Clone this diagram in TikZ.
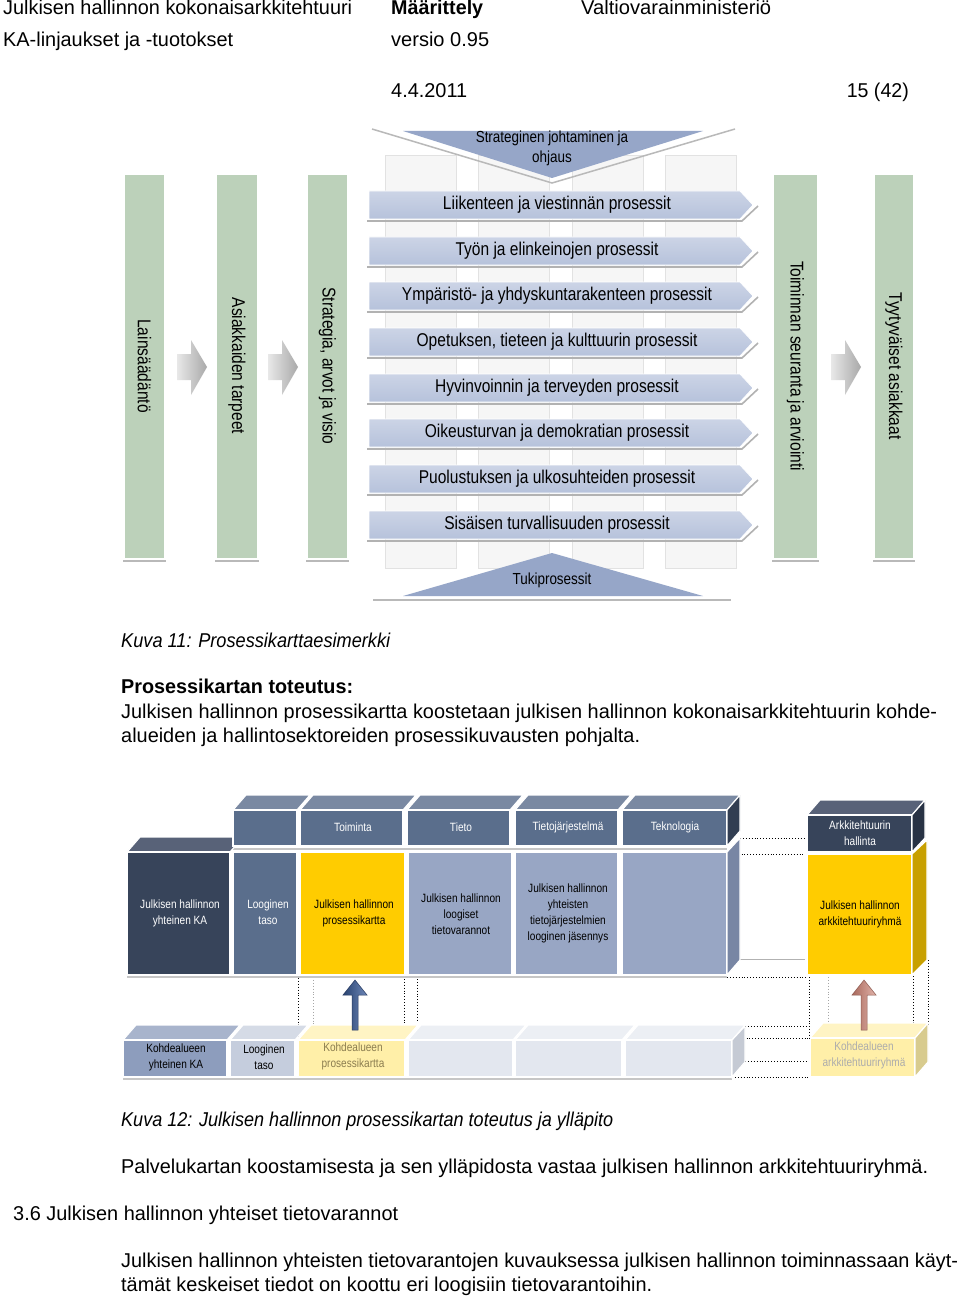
\documentclass[tikz,border=0pt]{standalone}
\usepackage{fontspec}
\usepackage{graphicx}
\setmainfont{Liberation Sans}
\newfontfamily\nar[FakeStretch=0.84]{Liberation Sans}
\newsavebox\fitbox
\newcommand\fitw[2]{\sbox\fitbox{#2}\pgfmathsetmacro\fitratio{#1/\the\wd\fitbox}\scalebox{\fitratio}[1]{\usebox\fitbox}}
\definecolor{gcol}{RGB}{188,209,186}
\definecolor{barT}{RGB}{204,212,230}
\definecolor{barB}{RGB}{182,194,219}
\definecolor{tri}{RGB}{150,166,200}
\definecolor{gridf}{RGB}{246,246,246}
\definecolor{gridd}{RGB}{226,226,226}
\definecolor{navy}{RGB}{55,68,90}
\definecolor{navyT}{RGB}{88,98,120}
\definecolor{navyS}{RGB}{40,50,68}
\definecolor{slate}{RGB}{90,110,140}
\definecolor{slateT}{RGB}{122,137,162}
\definecolor{lslate}{RGB}{152,166,196}
\definecolor{lslateS}{RGB}{120,134,164}
\definecolor{yel}{RGB}{255,204,0}
\definecolor{yelS}{RGB}{200,160,0}
\definecolor{b1}{RGB}{141,157,189}
\definecolor{b1T}{RGB}{168,180,204}
\definecolor{b2}{RGB}{197,205,221}
\definecolor{b2T}{RGB}{213,219,230}
\definecolor{ly}{RGB}{255,239,168}
\definecolor{lyT}{RGB}{255,244,196}
\definecolor{lyS}{RGB}{216,203,142}
\definecolor{lg}{RGB}{227,231,239}
\definecolor{lgT}{RGB}{236,239,244}
\definecolor{lgS}{RGB}{197,202,212}
\definecolor{brownt}{RGB}{139,125,80}
\begin{document}
\begin{tikzpicture}[x=1pt,y=-1pt,
 txt/.style={anchor=base west, inner sep=0pt, font=\fontsize{20}{24}\selectfont},
 bartxt/.style={inner sep=0pt, font=\nar\fontsize{18.5}{20}\selectfont},
 coltxt/.style={inner sep=0pt, rotate=-90, font=\nar\fontsize{18.5}{20}\selectfont},
 tritxt/.style={inner sep=0pt, align=center, font=\nar\fontsize{16}{20}\selectfont},
 dtxt/.style={inner sep=0pt, align=center, font=\nar\fontsize{12}{16}\selectfont},
 cell/.style={draw=white, line width=1.2pt},
 dots/.style={dotted, line width=0.9pt, black},
 gdots/.style={dotted, line width=0.9pt, gray!70},
]
\useasboundingbox (0,0) rectangle (960,1297);
\fill[white] (0,0) rectangle (960,1297);

% ---------- header ----------
\node[txt] (h1) at (3,15) {\fitw{349}{Julkisen hallinnon kokonaisarkkitehtuuri}};
\node[txt] (h2) at (391,15) {\fitw{92}{\bfseries Määrittely}};
\node[txt] (h3) at (581,15) {\fitw{190}{Valtiovarainministeriö}};
\node[txt] (h4) at (3,47) {\fitw{230}{KA-linjaukset ja -tuotokset}};
\node[txt] (h5) at (391,47) {\fitw{98}{versio 0.95}};
\node[txt] (h6) at (391,98) {\fitw{76}{4.4.2011}};
\node[txt, anchor=base east] (h7) at (909,98) {\fitw{62}{15 (42)}};

% ---------- diagram 1 ----------
\foreach \gx in {385,478,572,665}
  \draw[fill=gridf, draw=gridd] (\gx,155) rectangle (\gx+71,568);

% green columns
\foreach \cx/\cw in {125/39,217/40,308/39,774/43,875/38}{
  \draw[gray!55, line width=1.5pt] (\cx-2,561) -- (\cx+\cw+2,561);
  \fill[gcol] (\cx,175) rectangle (\cx+\cw,558);
  \draw[white, line width=1pt] (\cx-1,174) rectangle (\cx+\cw+1,559);
}
\node[coltxt] (c1) at (144.5,366) {Lainsäädäntö};
\node[coltxt] (c2) at (237,366) {Asiakkaiden tarpeet};
\node[coltxt] (c3) at (327.5,366) {Strategia, arvot ja visio};
\node[coltxt] (c4) at (795.5,366) {Toiminnan seuranta ja arviointi};
\node[coltxt] (c5) at (894,366) {Tyytyväiset asiakkaat};

% gray arrows between columns
\foreach \ax in {177,268,831}
  \shade[left color=gray!18, right color=gray!68]
    (\ax,354) -- (\ax+14,354) -- (\ax+14,340) -- (\ax+30,367) -- (\ax+14,395) -- (\ax+14,380) -- (\ax,380) -- cycle;

% top triangle
\draw[gray!55, line width=1.5pt] (372,129) -- (552,183) -- (735,129);
\fill[tri] (403,131) -- (703,131) -- (552,178) -- cycle;
\node[tritxt] (st) at (552,148) {Strateginen johtaminen ja\\ohjaus};

% process bars
\foreach \yy/\ptext [count=\i] in {205/Liikenteen ja viestinnän prosessit,
  251/Työn ja elinkeinojen prosessit,
  296/Ympäristö- ja yhdyskuntarakenteen prosessit,
  342/{Opetuksen, tieteen ja kulttuurin prosessit},
  388/Hyvinvoinnin ja terveyden prosessit,
  433/Oikeusturvan ja demokratian prosessit,
  479/Puolustuksen ja ulkosuhteiden prosessit,
  525/Sisäisen turvallisuuden prosessit}{
  \draw[gray!60, line width=1.6pt] (367,\yy+16) -- (742,\yy+16) -- (758,\yy+1);
  \shade[top color=barT, bottom color=barB, draw=white, line width=0.8pt]
    (369,\yy-14) -- (740,\yy-14) -- (753,\yy) -- (740,\yy+14) -- (369,\yy+14) -- cycle;
  \node[bartxt] (p\i) at (557,\yy) {\ptext};
}

% bottom triangle
\draw[gray!55, line width=1.6pt] (373,600) -- (731,600);
\fill[tri] (403,596) -- (703,596) -- (552,553) -- cycle;
\node[tritxt] (tk) at (552,580) {Tukiprosessit};

% ---------- texts between ----------
\node[txt] (k11) at (121,647) {\fitw{269}{\itshape Kuva 11: Prosessikarttaesimerkki}};
\node[txt] (pt) at (121,693) {\fitw{232}{\bfseries Prosessikartan toteutus:}};
\node[txt] (l1) at (121,718) {\fitw{816}{Julkisen hallinnon prosessikartta koostetaan julkisen hallinnon kokonaisarkkitehtuurin kohde-}};
\node[txt] (l2) at (121,742) {\fitw{519}{alueiden ja hallintosektoreiden prosessikuvausten pohjalta.}};

% ---------- diagram 2 ----------
% dotted connectors (behind)
\draw[dots] (740,838) -- (805,838);
\draw[dots] (727,854) -- (805,854);
\draw[gray!60, line width=0.8pt] (740,959) -- (805,959);
\draw[dots] (727,977) -- (807,977);
\draw[dots] (298,978) -- (298,1038);
\draw[gdots] (313,977) -- (313,1025);
\draw[dots] (404,976) -- (404,1038);
\draw[dots] (417,979) -- (417,1020);
\draw[dots] (809,977) -- (809,1038);
\draw[gdots] (828,977) -- (828,1023);
\draw[dots] (913,976) -- (913,1038);
\draw[dots] (928,960) -- (928,1025);
\draw[dots] (745,1026) -- (810,1026);
\draw[dots] (732,1038) -- (810,1038);
\draw[dots] (745,1061) -- (810,1061);
\draw[dots] (732,1077) -- (810,1077);

% shadows
\draw[gray!45, line width=1.2pt] (127,977) -- (727,977);
\draw[gray!45, line width=1.2pt] (233,849) -- (727,849);
\draw[gray!45, line width=1.2pt] (123,1079) -- (732,1079);

% dark box
\filldraw[cell, fill=navyT] (127,852) -- (140,837) -- (243,837) -- (230,852) -- cycle;
\filldraw[cell, fill=navy] (127,852) rectangle (230,975);
% header row
\foreach \xa/\xb in {233/297,300/403,407/510,515/618,622/727}{
  \filldraw[cell, fill=slateT] (\xa,810) -- (\xa+13,795) -- (\xb+13,795) -- (\xb,810) -- cycle;
  \filldraw[cell, fill=slate] (\xa,810) rectangle (\xb,846);
}
\filldraw[cell, fill=navyS!80!slate] (727,810) -- (740,795) -- (740,831) -- (727,846) -- cycle;
% main row
\filldraw[cell, fill=slate] (233,852) rectangle (297,975);
\filldraw[cell, fill=yel] (300,852) rectangle (405,975);
\filldraw[cell, fill=lslate] (408,852) rectangle (512,975);
\filldraw[cell, fill=lslate] (515,852) rectangle (618,975);
\filldraw[cell, fill=lslate] (622,852) rectangle (727,975);
\filldraw[cell, fill=lslateS] (727,852) -- (740,838) -- (740,960) -- (727,975) -- cycle;
% right group
\filldraw[cell, fill=navyT] (807,815) -- (820,800) -- (925,800) -- (912,815) -- cycle;
\filldraw[cell, fill=navy] (807,815) rectangle (912,852);
\filldraw[cell, fill=navyS] (912,815) -- (925,800) -- (925,838) -- (912,852) -- cycle;
\filldraw[cell, fill=yel] (807,854) rectangle (912,975);
\filldraw[cell, fill=yelS] (912,854) -- (927,840) -- (927,960) -- (912,975) -- cycle;

\node[dtxt, text=white] (t1) at (353,827) {Toiminta};
\node[dtxt, text=white] (t2) at (461,827) {Tieto};
\node[dtxt, text=white] (t3) at (568,827) {Tietojärjestelmä};
\node[dtxt, text=white] (t4) at (675,827) {Teknologia};
\node[dtxt, text=white] (ah) at (860,833) {Arkkitehtuurin\\hallinta};
\node[dtxt, text=white] (m1) at (180,913) {Julkisen hallinnon\\yhteinen KA};
\node[dtxt, text=white] (m2) at (268,912) {Looginen\\taso};
\node[dtxt] (m3) at (354,913) {Julkisen hallinnon\\prosessikartta};
\node[dtxt] (m4) at (461,914) {Julkisen hallinnon\\loogiset\\tietovarannot};
\node[dtxt] (m5) at (568,913) {Julkisen hallinnon\\yhteisten\\tietojärjestelmien\\looginen jäsennys};
\node[dtxt] (m6) at (860,914) {Julkisen hallinnon\\arkkitehtuuriryhmä};

% bottom row
\foreach \xa/\xb/\cf/\ct in {123/227/b1/b1T,230/295/b2/b2T,298/405/ly/lyT,408/513/lg/lgT,515/622/lg/lgT,625/732/lg/lgT}{
  \filldraw[cell, fill=\ct] (\xa,1040) -- (\xa+13,1025) -- (\xb+13,1025) -- (\xb,1040) -- cycle;
  \filldraw[cell, fill=\cf] (\xa,1040) rectangle (\xb,1077);
}
\filldraw[cell, fill=lgS] (732,1040) -- (745,1026) -- (745,1062) -- (732,1077) -- cycle;
\filldraw[cell, fill=lyT] (810,1038) -- (823,1023) -- (928,1023) -- (915,1038) -- cycle;
\filldraw[cell, fill=ly] (810,1038) rectangle (915,1077);
\filldraw[cell, fill=lyS] (915,1038) -- (928,1023) -- (928,1062) -- (915,1077) -- cycle;
\draw[dots] (809,1026) -- (809,1038);

\node[dtxt] (q1) at (176,1057) {Kohdealueen\\yhteinen KA};
\node[dtxt] (q2) at (264,1057) {Looginen\\taso};
\node[dtxt, text=brownt] (q3) at (353,1056) {Kohdealueen\\prosessikartta};
\node[dtxt, text=gray!65] (q4) at (864,1055) {Kohdealueen\\arkkitehtuuriryhmä};

% up arrows
\shade[left color={rgb,255:red,40;green,66;blue,112}, right color={rgb,255:red,110;green,136;blue,184}, draw={rgb,255:red,40;green,58;blue,96}, line width=0.5pt]
  (352,1030) -- (352,995) -- (343,995) -- (355,980) -- (367,995) -- (358,995) -- (358,1030) -- cycle;
\shade[left color={rgb,255:red,168;green,104;blue,92}, right color={rgb,255:red,226;green,180;blue,170}, draw={rgb,255:red,140;green,90;blue,80}, line width=0.5pt]
  (861,1030) -- (861,995) -- (852,995) -- (864,980) -- (876,995) -- (867,995) -- (867,1030) -- cycle;

% ---------- bottom texts ----------
\node[txt] (k12) at (121,1126) {\fitw{492}{\itshape Kuva 12: Julkisen hallinnon prosessikartan toteutus ja ylläpito}};
\node[txt] (pk) at (121,1173) {\fitw{807}{Palvelukartan koostamisesta ja sen ylläpidosta vastaa julkisen hallinnon arkkitehtuuriryhmä.}};
\node[txt] (s36) at (13,1220) {\fitw{385}{3.6 Julkisen hallinnon yhteiset tietovarannot}};
\node[txt] (b1) at (121,1267) {\fitw{837}{Julkisen hallinnon yhteisten tietovarantojen kuvauksessa julkisen hallinnon toiminnassaan käyt-}};
\node[txt] (b2) at (121,1291) {\fitw{531}{tämät keskeiset tiedot on koottu eri loogisiin tietovarantoihin.}};
\end{tikzpicture}
\end{document}
